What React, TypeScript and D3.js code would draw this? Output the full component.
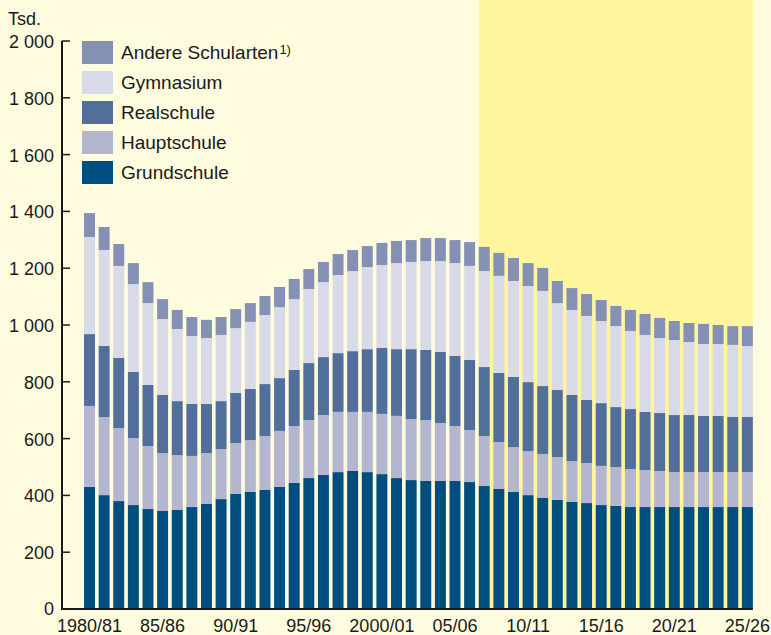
import React from "react";
import * as d3 from "d3";

const years = Array.from({ length: 46 }, (_, i) => 1980 + i);
const tickLabels = ["1980/81", "85/86", "90/91", "95/96", "2000/01", "05/06", "10/11", "15/16", "20/21", "25/26"];
const tickIndices = [0, 5, 10, 15, 20, 25, 30, 35, 40, 45];
const yTicks = [0, 200, 400, 600, 800, 1000, 1200, 1400, 1600, 1800, 2000];

const grundschule = [430, 401, 380, 366, 352, 345, 349, 359, 370, 387, 405, 412, 419, 430, 444, 461, 472, 482, 486, 482, 475, 461, 454, 451, 451, 451, 447, 433, 423, 412, 401, 391, 384, 377, 373, 366, 363, 359, 359, 359, 359, 359, 359, 359, 359, 359];
const hauptschule = [285, 275, 257, 236, 222, 204, 193, 180, 179, 176, 179, 183, 190, 197, 200, 204, 211, 212, 208, 212, 212, 219, 215, 214, 204, 193, 183, 176, 165, 158, 155, 155, 151, 144, 141, 138, 137, 134, 130, 127, 123, 123, 123, 123, 123, 123];
const realschule = [253, 250, 247, 233, 215, 205, 190, 183, 173, 169, 177, 180, 183, 186, 198, 201, 204, 207, 214, 221, 232, 235, 246, 247, 250, 247, 247, 243, 243, 247, 243, 239, 236, 233, 222, 221, 211, 211, 205, 204, 201, 201, 198, 198, 194, 194];
const gymnasium = [342, 338, 324, 309, 288, 267, 254, 239, 232, 233, 228, 236, 243, 250, 249, 261, 264, 275, 282, 289, 292, 303, 307, 313, 320, 327, 331, 338, 342, 338, 338, 335, 306, 299, 296, 289, 285, 275, 271, 264, 264, 257, 253, 253, 254, 250];
const andere = [84, 81, 77, 74, 74, 70, 67, 67, 64, 63, 67, 66, 67, 71, 71, 70, 71, 74, 74, 74, 78, 78, 77, 81, 81, 81, 84, 85, 81, 81, 81, 81, 78, 77, 77, 74, 71, 74, 74, 71, 67, 67, 71, 67, 66, 70];

const seriesKeys = ["Grundschule", "Hauptschule", "Realschule", "Gymnasium", "Andere"];
const seriesColors: Record<string, string> = {
  Grundschule: "#004d80",
  Hauptschule: "#b3b6ce",
  Realschule: "#526f9c",
  Gymnasium: "#d9dae8",
  Andere: "#8491b4",
};
const legendItems = [
  { key: "Andere", label: "Andere Schularten", sup: "1)" },
  { key: "Gymnasium", label: "Gymnasium" },
  { key: "Realschule", label: "Realschule" },
  { key: "Hauptschule", label: "Hauptschule" },
  { key: "Grundschule", label: "Grundschule" },
];
const forecastStart = 27;

export default function App() {
  const W = 771, H = 635;
  const rows = years.map((yr, i) => ({
    i,
    Grundschule: grundschule[i],
    Hauptschule: hauptschule[i],
    Realschule: realschule[i],
    Gymnasium: gymnasium[i],
    Andere: andere[i],
  }));
  const stacked = d3.stack<any>().keys(seriesKeys)(rows);
  const x = d3.scaleBand<number>().domain(years.map((_, i) => i)).range([82.2, 754.7]).paddingInner(0.25).paddingOuter(0.125);
  const y = d3.scaleLinear().domain([0, 2000]).range([609, 41]);
  const font = "'Liberation Sans', Arial, sans-serif";
  const hlX0 = x(forecastStart)!;
  const hlX1 = x(years.length - 1)! + x.bandwidth();

  return (
    <svg width={W} height={H} style={{ position: "absolute", left: 0, top: 0 }} fontFamily={font}>
      <rect x={0} y={0} width={W} height={H} fill="#fffbdf" />
      <rect x={hlX0} y={0} width={hlX1 - hlX0} height={y(0) - 1} fill="#fff59c" />
      {stacked.map((s) => (
        <g key={s.key} fill={seriesColors[s.key]}>
          {s.map((d, i) => (
            <rect key={i} x={x(i)} y={y(d[1])} width={x.bandwidth()} height={y(d[0]) - y(d[1])} />
          ))}
        </g>
      ))}
      <line x1={62} x2={62} y1={y(2000)} y2={y(0) + 1} stroke="#1a1a1a" strokeWidth={2} />
      <line x1={61} x2={hlX1} y1={y(0)} y2={y(0)} stroke="#1a1a1a" strokeWidth={2} />
      {yTicks.map((t) => (
        <g key={t}>
          {t > 0 && <line x1={62} x2={70} y1={y(t)} y2={y(t)} stroke="#1a1a1a" strokeWidth={1.5} />}
          <text x={54} y={y(t) + (t === 0 ? 5.5 : 7)} textAnchor="end" fontSize={18} fill="#1a1a1a">
            {d3.format(",")(t).replace(",", " ")}
          </text>
        </g>
      ))}
      <text x={8} y={25} fontSize={18} fill="#1a1a1a">Tsd.</text>
      {tickIndices.map((idx, k) => (
        <text key={idx} x={x(idx)! + x.bandwidth() / 2} y={632} textAnchor="middle" fontSize={18} fill="#1a1a1a">
          {tickLabels[k]}
        </text>
      ))}
      {legendItems.map((it, k) => (
        <g key={it.key} transform={`translate(82, ${41 + k * 30})`}>
          <rect x={0} y={0} width={31} height={23} fill={seriesColors[it.key]} />
          <text x={39} y={18} fontSize={19} fill="#1a1a1a">
            {it.label}
            {it.sup && <tspan dx={1} dy={-5} fontSize={13}>{it.sup}</tspan>}
          </text>
        </g>
      ))}
    </svg>
  );
}
